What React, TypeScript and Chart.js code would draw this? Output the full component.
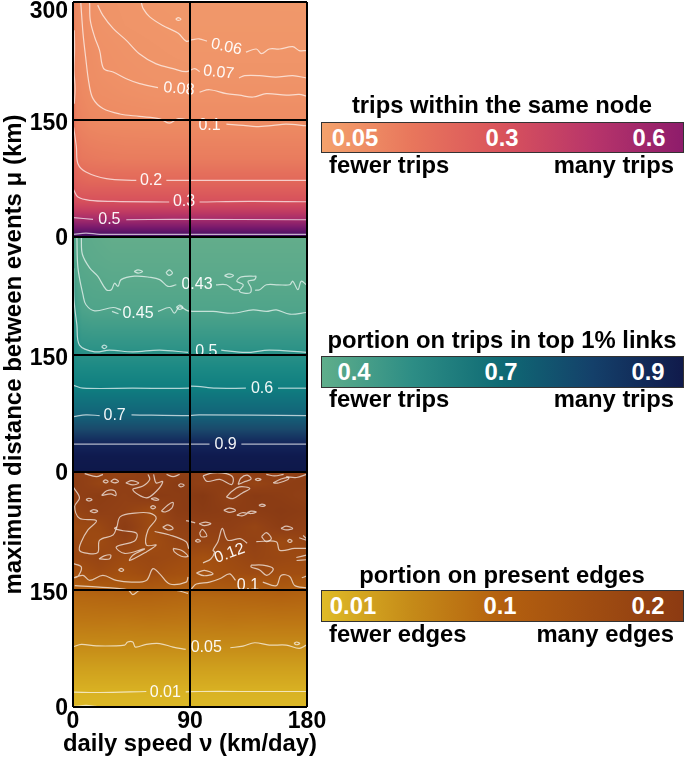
import React, { useEffect, useRef } from "react";
import { Chart, registerables } from "chart.js";
Chart.register(...registerables);

type P = number[][];
const FONT = "'Liberation Sans', Arial, sans-serif";

const speedTicks = [0, 90, 180];
const distanceTicks = [0, 150, 300];

// ---------- trips within the same node ----------
const tripsCols = [0, 3, 7, 13, 22, 40, 65, 90, 180];
const tripsRows = [0, 4, 12, 22, 33, 45, 58, 72, 100, 142, 181, 204, 239, 270, 300];
const tripsValues = [
  [.95, .92, .92, .92, .92, .92, .92, .92, .92],
  [.82, .8, .8, .8, .8, .8, .8, .8, .8],
  [.64, .62, .62, .62, .62, .62, .62, .62, .62],
  [.53, .5, .5, .5, .5, .5, .5, .5, .5],
  [.41, .39, .39, .39, .39, .39, .39, .39, .39],
  [.33, .31, .3, .3, .3, .3, .3, .3, .3],
  [.29, .26, .25, .25, .25, .25, .25, .25, .25],
  [.26, .22, .21, .2, .2, .2, .2, .2, .2],
  [.22, .17, .155, .15, .145, .14, .14, .14, .14],
  [.18, .13, .12, .11, .105, .102, .1, .1, .1],
  [.15, .115, .105, .095, .09, .085, .08, .08, .08],
  [.14, .11, .1, .09, .085, .078, .072, .07, .07],
  [.13, .105, .095, .088, .08, .072, .066, .06, .06],
  [.125, .102, .09, .082, .073, .065, .06, .055, .055],
  [.12, .1, .088, .08, .07, .062, .056, .052, .05],
];
const tripsScale: [number, string][] = [
  [.05, "#f0986a"], [.08, "#ef9167"], [.1, "#ed8a62"], [.14, "#e97c5e"], [.2, "#e2685a"], [.3, "#d6505c"],
  [.39, "#c23c62"], [.5, "#a32b6b"], [.62, "#78196c"], [.8, "#4f1266"], [.95, "#3c0c5e"],
];
const tripsBar = ["#f4a26c", "#e8765c", "#d9535c", "#b8356a", "#8e1c6b"];
const tripsContours: P[] = [
  [[52.6, 299], [54, 291.5], [59, 281], [69, 270], [81, 260], [87, 250], [92, 252], [97, 253], [103, 250]],
  [[133, 236], [141, 240], [145, 234], [151, 240], [159, 240], [169, 243], [174, 238], [179.5, 238]],
  [[12.8, 298.7], [13.3, 276.6], [16.7, 255], [20.5, 238], [23.6, 215], [30.8, 210.6], [41, 202], [51.3, 195.7], [65.4, 190.6]],
  [[97.4, 185], [105, 188], [118, 183], [128, 181], [138.5, 178.7], [148.7, 183], [164, 181], [174, 182], [179.5, 180]],
  [[19, 296], [23, 283], [31, 266], [41, 251], [51, 234], [64, 221], [77, 215], [87, 211], [93.6, 215], [97.4, 211]],
  [[127.7, 203], [132, 206], [143.6, 206], [156, 204], [169, 206], [179.5, 203]],
  [[6, 299], [7.7, 260], [9.7, 230], [12.3, 196], [15.4, 176.6], [23, 164], [36, 157], [51, 154], [66.7, 151], [74, 145.5], [81, 151], [90, 149]],
  [[118, 144], [131, 142.5], [141, 141], [154, 142.5], [164, 144], [179.5, 142]],
  [[.5, 140], [2.6, 115], [3.8, 93.6], [10, 83], [25.6, 74.5], [48.7, 72.3]],
  [[71.8, 72.3], [92, 72.3], [128, 72.3], [179.5, 72.3]],
  [[.5, 60.4], [3.8, 51], [12.8, 46.8], [30.8, 45.5], [74, 44.7]],
  [[97.4, 44.7], [136, 45.5], [179.5, 45]],
  [[.5, 24.7], [15.4, 22.6]],
  [[41, 22], [77, 22.5], [179.5, 22]],
  [[.5, 3.4], [10, 5], [20.5, 3.4], [60, 3.4], [179.5, 3.4]],
  [[1, 264], [1.2, 240], [.8, 212], [1.6, 190], [1, 170]],
  [[79, 278], [81, 280], [83, 278], [81, 276.5], [79, 278]],
];
const tripsLabels: [string, number, number, number][] = [
  ["0.06", 118, 242.5, 12], ["0.07", 112, 210, 6], ["0.08", 81.5, 189, 5], ["0.1", 105, 142.5, 0],
  ["0.2", 60, 72.3, 0], ["0.3", 85.4, 44.7, 0], ["0.5", 28, 22, 0],
];

// ---------- portion on trips in top 1% links ----------
const linksCols = [0, 3, 7, 15, 30, 90, 180];
const linksRows = [0, 20, 36, 55, 72, 90, 107, 130, 153, 206, 243, 270, 300];
const linksValues = [
  [1, 1, 1, 1, 1, 1, 1],
  [.97, .97, .97, .97, .97, .97, .97],
  [.9, .9, .9, .9, .9, .9, .9],
  [.78, .78, .78, .78, .78, .78, .78],
  [.7, .7, .7, .7, .7, .7, .7],
  [.65, .65, .65, .65, .65, .65, .65],
  [.6, .6, .6, .6, .6, .6, .6],
  [.56, .54, .54, .54, .54, .54, .54],
  [.53, .51, .5, .5, .5, .5, .5],
  [.5, .47, .455, .45, .45, .45, .45],
  [.48, .45, .44, .435, .43, .43, .43],
  [.47, .44, .43, .425, .42, .42, .42],
  [.46, .44, .425, .42, .41, .41, .41],
];
const linksScale: [number, string][] = [
  [.41, "#63ad8b"], [.45, "#4fa48a"], [.5, "#2a9187"], [.54, "#1a8884"], [.6, "#0f7e80"], [.7, "#136278"],
  [.78, "#1a4a6c"], [.9, "#13245a"], [.97, "#0f1a4e"], [1, "#0e184a"],
];
const linksBar = ["#5fae8b", "#2d8d85", "#0f6a74", "#14406a", "#101a4b"];
const linksContours: P[] = [
  [[6.4, 299], [7.2, 278], [12.8, 260.6], [19, 250], [25.6, 232.7], [29.5, 232.7], [32, 241], [34.6, 237], [37, 245.6], [47.4, 250], [59, 248.6], [66.7, 245.6], [73, 237], [79.5, 239]],
  [[110, 239], [118, 239], [123.5, 232.7], [128, 233]],
  [[140, 232], [143.6, 232.7], [148.7, 239], [157.7, 239], [166.7, 239], [169, 243.5], [173, 232.7], [175.6, 243.5], [179.5, 239]],
  [[47, 256], [50, 258], [53.5, 256], [50, 254], [47, 256]],
  [[71.5, 254], [74, 258], [76.5, 254], [74, 251], [71.5, 254]],
  [[116.5, 250.7], [120, 253], [123.5, 250.7], [120, 248.5], [116.5, 250.7]],
  [[141, 250], [129.5, 249], [126, 243.5], [131, 239], [128, 230.6], [136, 228.5], [137, 235], [134.6, 243.5], [139.7, 245.6], [141, 250]],
  [[3, 299], [3.8, 260.6], [7.7, 226], [10, 213.5], [16.7, 205.7], [30.8, 210], [37, 207]],
  [[30, 205], [35, 202]],
  [[65.4, 205], [74.4, 210], [78, 202.7], [82, 211], [88.5, 205.7], [107.7, 205], [123, 202.7], [138.5, 207], [148.7, 205], [156.4, 207], [166.7, 201.5], [179.5, 203.6]],
  [[79.5, 210], [82, 213], [84.5, 210], [82, 207.5], [79.5, 210]],
  [[.5, 260], [.8, 220], [3, 187.7], [5, 162], [16.7, 153.4], [28, 155.6], [46, 153.4], [66.7, 155.6], [88.5, 152.6]],
  [[114, 155.6], [133, 152.6], [151, 155.6], [179.5, 152.6]],
  [[22, 160], [24, 162], [26, 160], [24, 157.5], [22, 160]],
  [[.5, 110.6], [7.7, 107], [46, 107], [89, 107], [91, 109.7], [110, 107], [133, 107]],
  [[157.7, 107], [179.5, 107]],
  [[.5, 70.7], [10, 73], [20.5, 72]],
  [[45, 73], [90, 72], [97, 73], [179.5, 72]],
  [[.5, 35.6], [105, 35.6]],
  [[129.5, 35.6], [179.5, 35.6]],
];
const linksLabels: [string, number, number, number][] = [
  ["0.43", 95.4, 239, 0], ["0.45", 50, 202.7, 0], ["0.5", 102.5, 153.4, 0], ["0.6", 145.4, 107, 0],
  ["0.7", 32, 72, 0], ["0.9", 117.4, 35.6, 0],
];

// ---------- portion on present edges ----------
const edgesCols = [0, 20, 40, 60, 80, 100, 120, 140, 160, 180];
const edgesRows = [0, 19, 50, 77, 110, 140, 153, 170, 190, 210, 230, 250, 270, 285, 300];
const edgesValues = [
  [.003, .003, .003, .003, .003, .003, .003, .003, .003, .003],
  [.01, .01, .01, .01, .01, .01, .01, .01, .01, .01],
  [.03, .03, .03, .03, .03, .03, .03, .03, .03, .03],
  [.05, .05, .05, .05, .05, .05, .05, .05, .05, .05],
  [.074, .075, .074, .076, .075, .074, .076, .075, .076, .076],
  [.09, .092, .094, .094, .092, .09, .092, .094, .096, .094],
  [.1, .104, .104, .106, .102, .104, .106, .104, .106, .102],
  [.112, .118, .114, .118, .114, .112, .116, .118, .116, .116],
  [.119, .122, .118, .12, .118, .114, .118, .122, .12, .118],
  [.12, .118, .124, .116, .122, .122, .122, .124, .118, .122],
  [.118, .12, .128, .118, .124, .125, .126, .122, .128, .125],
  [.122, .126, .124, .118, .128, .13, .128, .128, .13, .128],
  [.125, .128, .125, .13, .128, .132, .124, .13, .128, .125],
  [.128, .122, .127, .122, .13, .125, .128, .122, .126, .128],
  [.126, .124, .122, .128, .125, .127, .122, .128, .125, .126],
];
const edgesScale: [number, string][] = [
  [.003, "#dcb826"], [.01, "#d9b223"], [.03, "#cf9f1d"], [.05, "#c68c18"], [.075, "#bd7614"], [.1, "#b05f10"],
  [.115, "#a34f10"], [.125, "#914015"], [.135, "#823612"],
];
const edgesBar = ["#dfbb27", "#c58a18", "#b4600f", "#a04d11", "#8c3a12"];
const edgesContours: P[] = [
  [[23, 288], [25, 290], [27, 288], [25, 286], [23, 288]],
  [[29, 288], [32, 291], [35, 288], [32, 286], [29, 288]],
  [[40.6, 286], [45, 289], [50.6, 286], [46, 283.5], [40.6, 286]],
  [[81, 283], [83, 285], [85.5, 283], [83, 281], [81, 283]],
  [[22, 270], [26, 276], [32, 276], [33, 270], [29, 272], [22, 270]],
  [[10, 264.7], [12.3, 266.5], [14.6, 264.7], [12.3, 263], [10, 264.7]],
  [[13, 250], [16, 252], [19, 250], [16, 248], [13, 250]],
  [[60, 266], [63, 267], [66, 264.5], [63, 264], [60, 266]],
  [[59.5, 255], [61.5, 257], [63.5, 255], [61.5, 253], [59.5, 255]],
  [[68, 250], [73, 258], [77, 261], [76, 254], [71, 249], [68, 250]],
  [[116, 251], [120.5, 254], [125, 251], [120.5, 248.5], [116, 251]],
  [[126, 245], [130, 248], [134, 247], [130, 244], [126, 245]],
  [[134, 248], [137, 250], [141, 249], [137, 247], [134, 248]],
  [[143, 257.4], [145.4, 259], [148, 257.4], [145.4, 256], [143, 257.4]],
  [[127, 284], [129, 292], [134, 296], [137, 291], [131, 287], [127, 284]],
  [[140, 290.5], [142.3, 292], [144.6, 290.5], [142.3, 289], [140, 290.5]],
  [[154, 286], [160, 291], [166, 293], [165, 290], [158, 286], [154, 286]],
  [[118, 268], [122, 275], [128, 281], [136, 279], [130, 273], [123, 266], [118, 268]],
  [[100, 295], [107.7, 299], [118, 298], [123, 293], [122, 284], [113, 290.5], [103, 288], [100, 295]],
  [[57.7, 297], [59, 290.5], [53.8, 282], [46, 277.6], [56.4, 267], [65.4, 277.6], [69, 288], [64, 286], [62, 297]],
  [[.5, 280], [5, 267], [1.3, 256], [5, 241], [18, 238], [11.5, 226], [6.4, 211], [5, 200], [11.5, 196], [19, 197], [20.5, 213], [30.8, 219.6], [33.8, 230]],
  [[33.8, 230], [36.4, 243], [47.4, 247.5], [59, 247.5], [64, 241], [57.7, 226], [56.4, 206.7], [64, 206.7], [56.4, 198], [43.6, 187], [46, 193.8], [55, 202], [39.7, 196], [33.3, 204.5], [47.4, 212], [49, 221.7], [38.5, 225], [32, 228], [33.8, 230]],
  [[69, 229.6], [73, 232.5], [77, 228], [73, 226], [69, 229.6]],
  [[62.8, 224], [74.4, 219.6], [87, 211], [89, 202]],
  [[77, 202.4], [83.3, 200], [88.5, 192.5], [83.3, 192.5], [78, 198], [77, 202.4]],
  [[20, 189], [24, 193], [29, 194], [28, 189], [20, 189]],
  [[.5, 183], [6.4, 178.8], [3.8, 166.7], [.5, 165], [7.7, 168], [12.8, 161.6], [23, 168], [33.3, 161.6], [44.9, 159.4], [56.4, 161.6], [61.5, 176.6], [66.7, 170], [74.4, 157], [87, 159.4], [88.5, 165.9]],
  [[35, 175], [37, 177], [39, 175], [37, 173], [35, 175]],
  [[1.3, 155], [20, 153], [42.3, 149.5], [46, 143.5], [51.3, 148.7], [79.5, 148.7], [88.5, 145]],
  [[91, 150.8], [94.9, 157], [105, 159.4], [112.8, 163.7], [120.5, 170], [125, 161.6]],
  [[146, 159.4], [156.4, 155], [160, 168], [166.7, 166.7], [170.5, 155], [179.5, 152]],
  [[94.9, 171], [101, 174.5], [107.7, 170], [100.5, 167.6], [94.9, 171]],
  [[100, 184], [106, 189], [109, 198], [107.7, 200], [111.5, 211], [114.9, 228], [119, 213], [128.7, 215], [134, 209]],
  [[141, 211], [156.4, 211], [159, 200], [170.5, 202.4], [179.5, 202.4]],
  [[137, 181], [146, 181], [154, 176.6], [149, 168], [143.6, 175], [137, 178.8], [137, 181]],
  [[145, 217.4], [148.7, 222.6], [152.6, 215], [148.7, 211], [145, 217.4]],
  [[97.4, 221.7], [99.5, 226.9], [103, 218.3], [98.7, 217.4], [97.4, 221.7]],
  [[97, 234], [102, 236], [106, 234], [101, 231.5], [97, 234]],
  [[94, 212], [96, 214], [98, 212], [96, 210.5], [94, 212]],
  [[87, 238], [90, 237], [94, 235]],
  [[160, 228], [164, 231], [169, 228], [164, 226], [160, 228]],
  [[165, 212], [166.7, 214], [168.5, 212], [166.7, 210], [165, 212]],
  [[174, 216], [179.5, 213]],
  [[177, 219], [179.5, 215]],
  [[171.8, 190.8], [179.5, 193.8]],
  [[172, 187], [179.5, 188]],
  [[176, 165], [179.5, 167]],
  [[9, 298], [18, 294], [23, 297]],
  [[72, 297], [77, 294], [82, 297]],
  [[148.7, 297], [155, 295], [162, 297]],
  [[164, 294], [172, 293], [179.5, 297]],
  [[.5, 77], [6.4, 80], [18, 78], [39.7, 79], [42, 83], [46, 83], [48, 76.5], [56.4, 80], [66.7, 81], [77, 76.5], [86.7, 73.5]],
  [[121, 75.6], [130.8, 77.8], [139.7, 82], [151, 79], [164, 79], [174, 74.8], [179.5, 79]],
  [[170, 81.2], [172, 83], [174.4, 81], [172, 79.5], [170, 81.2]],
  [[.5, 19], [20.5, 18.5], [56.4, 19.8]],
  [[86.7, 19.3], [97.4, 19.8], [128, 19.8], [179.5, 19.8]],
  [[1, .8], [10, 2], [18, .8]],
];
const edgesLabels: [string, number, number, number][] = [
  ["0.12", 120.5, 196, -20], ["0.1", 134.6, 155, 0], ["0.05", 102.5, 75.6, 0], ["0.01", 71, 19, 0],
];

const panels = [
  { id: "yTrips", cols: tripsCols, rows: tripsRows, values: tripsValues, scale: tripsScale, contours: tripsContours, labels: tripsLabels },
  { id: "yLinks", cols: linksCols, rows: linksRows, values: linksValues, scale: linksScale, contours: linksContours, labels: linksLabels },
  { id: "yEdges", cols: edgesCols, rows: edgesRows, values: edgesValues, scale: edgesScale, contours: edgesContours, labels: edgesLabels },
];

const hexRgb = (h: string) => [1, 3, 5].map((i) => parseInt(h.slice(i, i + 2), 16));
const bracket = (a: number[], v: number) => {
  let i = 0;
  while (i < a.length - 2 && v > a[i + 1]) i++;
  const t = Math.min(1, Math.max(0, (v - a[i]) / (a[i + 1] - a[i])));
  return [i, t];
};
const colorOf = (scale: [number, string][], v: number) => {
  const [i, t] = bracket(scale.map((s) => s[0]), v);
  const a = hexRgb(scale[i][1]);
  const b = hexRgb(scale[i + 1][1]);
  return a.map((c, k) => c + (b[k] - c) * t);
};

const heatmapPlugin = {
  id: "heatmap",
  beforeDatasetsDraw(chart: any) {
    const { ctx, chartArea: a, scales } = chart;
    const w = Math.round(a.right - a.left);
    const h = Math.round(a.bottom - a.top);
    const img = ctx.createImageData(w, h);
    panels.forEach((p) => {
      const ys = scales[p.id];
      const pal = p.scale;
      for (let py = Math.floor(ys.top); py < Math.ceil(ys.bottom); py++) {
        const row = py - Math.round(a.top);
        if (row < 0 || row >= h) continue;
        const [ri, rt] = bracket(p.rows, ys.getValueForPixel(py + 0.5));
        for (let px = 0; px < w; px++) {
          const [ci, ct] = bracket(p.cols, scales.x.getValueForPixel(a.left + px + 0.5));
          const v0 = p.values[ri][ci] * (1 - ct) + p.values[ri][ci + 1] * ct;
          const v1 = p.values[ri + 1][ci] * (1 - ct) + p.values[ri + 1][ci + 1] * ct;
          const c = colorOf(pal, v0 * (1 - rt) + v1 * rt);
          const o = (row * w + px) * 4;
          img.data[o] = c[0];
          img.data[o + 1] = c[1];
          img.data[o + 2] = c[2];
          img.data[o + 3] = 255;
        }
      }
    });
    ctx.putImageData(img, Math.round(a.left), Math.round(a.top));
  },
};

const tickShift: Record<number, number> = { 0: 2, 150: 4.5, 300: 10 };
const xTitle = "daily speed ν (km/day)";

const textPlugin = {
  id: "contourText",
  afterDatasetsDraw(chart: any) {
    const { ctx, scales } = chart;
    ctx.save();
    ctx.fillStyle = "rgba(255,255,255,0.95)";
    ctx.font = `16px ${FONT}`;
    ctx.textAlign = "center";
    ctx.textBaseline = "middle";
    panels.forEach((p) => {
      p.labels.forEach(([t, x, y, r]) => {
        ctx.save();
        ctx.translate(scales.x.getPixelForValue(x), scales[p.id].getPixelForValue(y));
        ctx.rotate((r * Math.PI) / 180);
        ctx.fillText(t, 0, 0);
        ctx.restore();
      });
    });
    ctx.fillStyle = "#000";
    ctx.font = `bold 23px ${FONT}`;
    ctx.textAlign = "right";
    panels.forEach((p, pi) => {
      const s = scales[p.id];
      distanceTicks.forEach((v) => {
        if (v === 300 && pi > 0) return;
        ctx.fillText(String(v), s.right - 5, s.getPixelForValue(v) + tickShift[v]);
      });
    });
    ctx.font = `bold 23.8px ${FONT}`;
    ctx.textAlign = "center";
    ctx.fillText(xTitle, (scales.x.left + scales.x.right) / 2, scales.x.bottom - 15);
    ctx.restore();
  },
};

const bars = [
  { title: "trips within the same node", colors: tripsBar, ticks: ["0.05", "0.3", "0.6"], centers: [355, 502, 649], low: "fewer trips", high: "many trips", titleY: 105, top: 122, h: 29, lowY: 165 },
  { title: "portion on trips in top 1% links", colors: linksBar, ticks: ["0.4", "0.7", "0.9"], centers: [354, 501, 648], low: "fewer trips", high: "many trips", titleY: 340, top: 356, h: 30, lowY: 399 },
  { title: "portion on present edges", colors: edgesBar, ticks: ["0.01", "0.1", "0.2"], centers: [353, 500, 648], low: "fewer edges", high: "many edges", titleY: 575, top: 590, h: 30, lowY: 634 },
];

const txt = (s: string, cx: number | null, cy: number, extra: React.CSSProperties = {}) => (
  <div
    style={{
      position: "absolute",
      top: cy - 14,
      height: 28,
      whiteSpace: "nowrap",
      font: `bold 23.8px/28px ${FONT}`,
      color: "#000",
      ...(cx === null ? {} : { left: cx - 200, width: 400, textAlign: "center" as const }),
      ...extra,
    }}
  >
    {s}
  </div>
);

export default function App() {
  const ref = useRef<HTMLCanvasElement>(null);
  useEffect(() => {
    document.body.style.margin = "0";
    const yScale = (showTitle: boolean) => ({
      type: "linear",
      stack: "panels",
      stackWeight: 1,
      min: distanceTicks[0],
      max: distanceTicks[2],
      afterBuildTicks: (s: any) => { s.ticks = distanceTicks.map((value) => ({ value })); },
      afterFit: (s: any) => { s.width = 73; s.paddingTop = 0; s.paddingBottom = 0; },
      border: { display: false },
      grid: { color: "#000", lineWidth: 2, drawTicks: false, z: 1 },
      ticks: { display: false },
      title: {
        display: showTitle,
        text: "maximum distance between events μ (km)",
        color: "#000",
        font: { family: FONT, size: 24, weight: "bold" },
        padding: { top: 0, bottom: 0 },
      },
    });
    const datasets: any[] = [];
    panels.forEach((p) => {
      p.contours.forEach((pts) => {
        datasets.push({
          yAxisID: p.id,
          xAxisID: "x",
          data: pts.map(([x, y]) => ({ x, y })),
          showLine: true,
          tension: 0.35,
          pointRadius: 0,
          borderColor: "rgba(255,255,255,0.68)",
          borderWidth: 1.2,
          fill: false,
        });
      });
    });
    const chart = new Chart(ref.current as HTMLCanvasElement, {
      type: "scatter",
      data: { datasets },
      plugins: [heatmapPlugin, textPlugin],
      options: {
        animation: false,
        responsive: false,
        devicePixelRatio: 1,
        layout: { padding: { left: 0, top: 2, right: 378, bottom: 0 } },
        plugins: { legend: { display: false }, tooltip: { enabled: false }, title: { display: false } },
        scales: {
          y: { display: false },
          x: {
            type: "linear",
            min: speedTicks[0],
            max: speedTicks[2],
            afterBuildTicks: (s: any) => { s.ticks = speedTicks.map((value) => ({ value })); },
            afterFit: (s: any) => { s.height = 52; s.paddingLeft = 0; s.paddingRight = 0; },
            border: { display: false },
            grid: { color: "#000", lineWidth: 2, drawTicks: false, z: 1 },
            ticks: { color: "#000", padding: 1, maxRotation: 0, font: { family: FONT, size: 23, weight: "bold" } },
          },
          yEdges: yScale(false),
          yLinks: yScale(true),
          yTrips: yScale(false),
        },
      } as any,
    });
    return () => chart.destroy();
  }, []);

  return (
    <div style={{ position: "absolute", left: 0, top: 0, width: 685, height: 759, background: "#fff", overflow: "hidden", filter: "blur(0.45px)" }}>
      <canvas ref={ref} width={685} height={759} style={{ position: "absolute", left: 0, top: 0, width: 685, height: 759 }} />
      {bars.map((b) => (
        <React.Fragment key={b.title}>
          {txt(b.title, 502, b.titleY)}
          <div
            style={{
              position: "absolute",
              left: 321,
              top: b.top,
              width: 361,
              height: b.h,
              border: "1px solid #333",
              background: `linear-gradient(to right, ${b.colors.join(", ")})`,
            }}
          />
          {b.ticks.map((t, i) => (
            <React.Fragment key={t}>{txt(t, b.centers[i], b.top + b.h / 2 + 1, { color: "#fff" })}</React.Fragment>
          ))}
          {txt(b.low, null, b.lowY, { left: 329 })}
          {txt(b.high, null, b.lowY, { right: 11 })}
        </React.Fragment>
      ))}
    </div>
  );
}
